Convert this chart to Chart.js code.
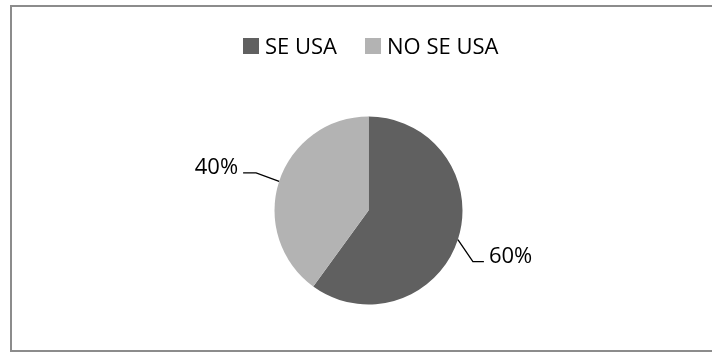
<!DOCTYPE html>
<html>
<head>
<meta charset="utf-8">
<script src="https://cdn.jsdelivr.net/npm/chart.js@4/dist/chart.umd.min.js"></script>
<style>
    html, body { margin: 0; padding: 0; background: #fff; overflow: hidden; }
    #frame {
        position: absolute; left: 10px; top: 5px;
        width: 900px; height: 343px;
        border: 2px solid #8c8c8c;
    }
    #wrap { position: absolute; left: 0; top: 0; width: 712px; height: 352px; }
</style>
</head>
<body>
<div id="frame"></div>
<div id="wrap"><canvas id="usoChart" width="712" height="352"></canvas></div>
<script>
var categories = ['SE USA', 'NO SE USA'];
var shares = [60, 40];
var sliceColors = ['#606060', '#b3b3b3'];

var FONT = '22px "Open Sans", "Liberation Sans", sans-serif';

// legend + leader-line labels, drawn on top of the library's arcs
var labelPlugin = {
    id: 'excelLabels',
    afterDatasetsDraw: function(chart) {
        var ctx = chart.ctx;
        var meta = chart.getDatasetMeta(0);
        ctx.save();
        ctx.font = FONT;
        ctx.fillStyle = '#000';
        ctx.textBaseline = 'alphabetic';

        // legend
        var box = 16, gap = 6, itemGap = 28;
        var x = 243;
        categories.forEach(function(c, i) {
            ctx.fillStyle = sliceColors[i];
            ctx.fillRect(x, 38, box, box);
            ctx.fillStyle = '#000';
            ctx.textAlign = 'left';
            ctx.fillText(c, x + box + gap, 54);
            x += box + gap + ctx.measureText(c).width + itemGap;
        });

        // data labels with leader lines
        var elbows = [{ dx: 15, dy: 22, run: 11 }, { dx: -23, dy: -8.5, run: -13 }];
        var sum = shares.reduce(function(a, b) { return a + b; }, 0);
        ctx.strokeStyle = '#000';
        ctx.lineWidth = 1.3;
        meta.data.forEach(function(arc, i) {
            var mid = (arc.startAngle + arc.endAngle) / 2;
            var ex = arc.x + Math.cos(mid) * arc.outerRadius;
            var ey = arc.y + Math.sin(mid) * arc.outerRadius;
            var e = elbows[i];
            var bx = ex + e.dx, by = ey + e.dy;
            var hx = bx + e.run;
            ctx.beginPath();
            ctx.moveTo(ex, ey);
            ctx.lineTo(bx, by);
            ctx.lineTo(hx, by);
            ctx.stroke();
            var txt = Math.round(shares[i] / sum * 100) + '%';
            ctx.textAlign = e.run > 0 ? 'left' : 'right';
            ctx.fillText(txt, hx + (e.run > 0 ? 5 : -5), by + 1);
        });
        ctx.restore();
    }
};

var ctx = document.getElementById('usoChart').getContext('2d');
var usoChart = new Chart(ctx, {
    type: 'pie',
    data: {
        labels: categories,
        datasets: [{
            data: shares,
            backgroundColor: sliceColors,
            borderWidth: 0,
            hoverOffset: 0,
            offset: 0
        }]
    },
    options: {
        responsive: false,
        animation: false,
        events: [],
        layout: { padding: { top: 116.5, bottom: 47.5, left: 100, right: 75 } },
        plugins: {
            legend: { display: false },
            tooltip: { enabled: false }
        }
    },
    plugins: [labelPlugin]
});
</script>
</body>
</html>
